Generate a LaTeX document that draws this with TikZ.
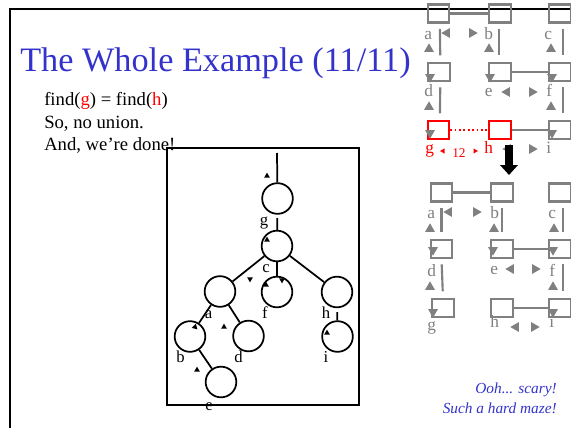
\documentclass[tikz,border=0pt]{standalone}
\usepackage{fontspec}
\setmainfont{Liberation Serif}
\usepackage{xcolor}
\usepackage{tikz}
\usetikzlibrary{
    shapes.geometric,
    positioning,
    arrows.meta
}

\definecolor{slideblue}{RGB}{51,51,204}
\definecolor{mazegray}{RGB}{128,128,128}

\begin{document}
\begin{tikzpicture}[
      x=0.75pt, y=-0.75pt,
      cell/.style={draw=mazegray, line width=1.6pt, minimum width=16pt, minimum height=13.5pt, inner sep=0pt},
      hotcell/.style={cell, draw=red},
      wall/.style={mazegray, line width=1.6pt},
      lbl/.style={text=mazegray, font=\fontsize{13}{13}\selectfont, inner sep=0pt, anchor=base west},
      tip/.style={regular polygon, regular polygon sides=3, fill=mazegray, inner sep=0pt, minimum size=8.5pt},
      knot/.style={circle, draw, line width=1.3pt, minimum size=23pt, inner sep=0pt},
      klbl/.style={font=\fontsize{12.5}{12.5}\selectfont, inner sep=0pt, anchor=base},
      dot/.style={regular polygon, regular polygon sides=3, fill=black, inner sep=0pt, minimum size=5pt},
      body/.style={font=\fontsize{14}{16}\selectfont, inner sep=0pt, anchor=base west},
      remark/.style={text=slideblue, font=\fontsize{11.5}{12}\selectfont\itshape, inner sep=0pt, anchor=base east}
    ]
    \useasboundingbox (0,0) rectangle (571,428);

    % slide frame
    \draw[line width=2pt] (571,9) -- (10,9) -- (10,428);

    % text
    \node[text=slideblue, font=\fontsize{25.7}{26}\selectfont, inner sep=0pt, anchor=base west] (title) at (20,72) {The Whole Example (11/11)};
    \node[body] (find) at (44,105) {find(\textcolor{red}{g}) = find(\textcolor{red}{h})};
    \node[body] (nounion) at (44,128) {So, no union.};
    \node[body] (done) at (44,150.5) {And, we’re done!};

    % maze before
    \foreach \n/\x/\y in {a/438.5/13.5, b/500/13.5, c/560/13.5, d/439/72, e/500/72, f/560/72, i/560/130}
      \node[cell] (top\n) at (\x,\y) {};
    \node[hotcell] (topg) at (438.5,130) {};
    \node[hotcell] (toph) at (500,130) {};

    \draw[wall] (topa) -- (topb);
    \draw[wall] (tope) -- (topf);
    \draw[wall] (toph) -- (topi);
    \draw[red, line width=1.3pt, dotted] (topg) -- (toph);
    \draw[wall, shorten <=4pt, shorten >=5pt] ([xshift=1pt]topa.south) -- ([xshift=1pt]topd.north);
    \draw[wall, shorten <=4pt, shorten >=5pt] ([xshift=-1pt]topb.south) -- ([xshift=-1pt]tope.north);
    \draw[wall, shorten <=4pt, shorten >=5pt] ([xshift=2.5pt]topc.south) -- ([xshift=2.5pt]topf.north);
    \draw[wall, shorten <=4pt, shorten >=5pt] ([xshift=1pt]topd.south) -- ([xshift=1pt]topg.north);
    \draw[wall, shorten <=4pt, shorten >=5pt] ([xshift=2.5pt]topf.south) -- ([xshift=2.5pt]topi.north);

    \node[lbl] (ta) at (424,40) {a};
    \node[lbl] (tb) at (484,40) {b};
    \node[lbl] (tc) at (544,40) {c};
    \node[lbl] (td) at (424,97) {d};
    \node[lbl] (te) at (484.5,97) {e};
    \node[lbl] (tf) at (546,97) {f};
    \node[lbl, text=red] (tg) at (425,153) {g};
    \node[lbl, text=red, font=\fontsize{10}{10}\selectfont] (tw) at (452,157) {12};
    \node[lbl, text=red] (th) at (484,153) {h};
    \node[lbl] (ti) at (546,153) {i};

    \foreach \x/\y/\r [count=\k] in {447/33/90, 472/33/-90, 429/49/0, 489/49/0, 551/49/0,
        430/77/180, 490/77/180, 552/77/180, 507/92/90, 532/92/-90, 429/107/0, 551/107/0,
        430/133/180, 552/133/180, 508/149/90, 532/149/-90}
      \node[tip, rotate=\r] (tt\k) at (\x,\y) {};
    \node[tip, fill=red, minimum size=4.5pt, rotate=90] (tr1) at (443,151) {};
    \node[tip, fill=red, minimum size=4.5pt, rotate=-90] (tr2) at (475,151) {};

    % step arrow
    \coordinate (drop) at (509,145);
    \coordinate (land) at (509,175);
    \draw[line width=6pt, -{Triangle[width=13pt, length=7.5pt]}] (drop) -- (land);

    % maze after
    \foreach \n/\x/\y in {a/441.5/192.5, b/502/192.5, c/560/192.5, d/441.5/249, e/502/249, f/560/249,
        g/443/308, h/502/308, i/560/308}
      \node[cell] (bot\n) at (\x,\y) {};

    \draw[wall] (bota) -- (botb);
    \draw[wall] (bote) -- (botf);
    \draw[wall] (both) -- (boti);
    \draw[wall, shorten <=4pt, shorten >=5pt] (bota.south) -- (botd.north);
    \draw[wall, shorten <=4pt, shorten >=5pt] (botb.south) -- (bote.north);
    \draw[wall, shorten <=4pt, shorten >=5pt] ([xshift=2.5pt]botc.south) -- ([xshift=2.5pt]botf.north);
    \draw[wall, shorten <=4pt, shorten >=5pt] (botd.south) -- (botg.north);
    \draw[wall, shorten <=4pt, shorten >=5pt] ([xshift=2.5pt]botf.south) -- ([xshift=2.5pt]boti.north);

    \node[lbl] (ba) at (427,218) {a};
    \node[lbl] (bb) at (490,218) {b};
    \node[lbl] (bc) at (548,218) {c};
    \node[lbl] (bd) at (427,276) {d};
    \node[lbl] (be) at (490,274) {e};
    \node[lbl] (bf) at (549,276) {f};
    \node[lbl] (bg) at (427,330) {g};
    \node[lbl] (bh) at (490,327) {h};
    \node[lbl] (bi) at (549,327) {i};

    \foreach \x/\y/\r [count=\k] in {449/212/90, 476/212/-90, 430/229/0, 494/229/0, 554/229/0,
        433/250/180, 493/250/180, 553/250/180, 511/269/90, 535/269/-90, 430/287/0, 553/287/0,
        433/312/180, 553/312/180, 516/327/90, 534/327/-90}
      \node[tip, rotate=\r] (bt\k) at (\x,\y) {};

    % union-find forest
    \draw[line width=1.5pt] (167,148) rectangle (359,405);
    \coordinate (root) at (277,153);
    \node[knot] (g) at (277.5,198.5) {};
    \node[knot] (c) at (277,246) {};
    \node[knot] (a) at (220,291.5) {};
    \node[knot] (f) at (277,292) {};
    \node[knot] (h) at (337,292) {};
    \node[knot] (b) at (190,336.5) {};
    \node[knot] (d) at (248.5,336) {};
    \node[knot] (i) at (337.5,336.5) {};
    \node[knot] (e) at (221,382) {};

    \draw[line width=1.3pt] (root) -- (g);
    \draw[line width=1.3pt, shorten <=2.5pt] (g) -- (c);
    \draw[line width=1.3pt] (c) -- (a);
    \draw[line width=1.3pt] (c) -- (f);
    \draw[line width=1.3pt] (c) -- (h);
    \draw[line width=1.3pt] (a) -- (b);
    \draw[line width=1.3pt] (a) -- (d);
    \draw[line width=1.3pt] (b) -- (e);
    \draw[line width=1.3pt, shorten <=3pt] (h) -- (i);

    \node[klbl] (lg) at (264,225) {g};
    \node[klbl] (lc) at (266,272) {c};
    \node[klbl] (la) at (208.5,318) {a};
    \node[klbl] (lf) at (265,318) {f};
    \node[klbl] (lh) at (326,318) {h};
    \node[klbl] (lb) at (180.5,362) {b};
    \node[klbl] (ld) at (238.5,362) {d};
    \node[klbl] (li) at (326,362) {i};
    \node[klbl] (le) at (209,410) {e};

    \foreach \x/\y/\r [count=\k] in {267/176/0, 267/240/0, 250/279/180, 266/285/0, 282/280/180,
        195/327/-135, 224/327/-120, 327/333/0, 197/370/-120}
      \node[dot, rotate=\r] (dt\k) at (\x,\y) {};

    \node[remark] (ooh) at (557,393) {Ooh... scary!};
    \node[remark] (maze) at (557,413) {Such a hard maze!};
\end{tikzpicture}
\end{document}
